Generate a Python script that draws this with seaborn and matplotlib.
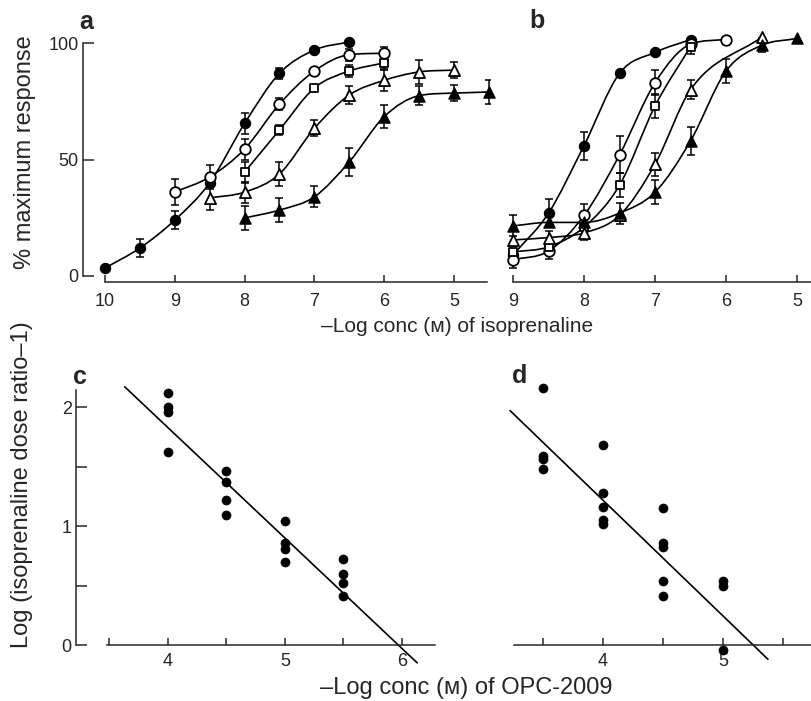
import numpy as np
import pandas as pd
import matplotlib
matplotlib.use("Agg")
import matplotlib.pyplot as plt
import seaborn as sns
from matplotlib.path import Path
from matplotlib.patches import PathPatch

# ---------------- data ----------------
# Panel a  (x = -log conc of isoprenaline, y = % maximum response)
a_fc_x = [10, 9.5, 9, 8.5, 8, 7.5, 7, 6.5]
a_fc_y = [3.4, 12, 24, 40, 65.5, 87, 97, 100.5]
a_fc_e = [0, 4, 4, 0, 4.5, 2.5, 0, 0]

a_oc_x = [9, 8.5, 8, 7.5, 7, 6.5, 6]
a_oc_y = [36, 42.5, 54.5, 73.8, 88, 95, 95.6]
a_oc_e = [5.5, 5, 4.5, 2.5, 1.5, 2.5, 2.5]

a_os_x = [8, 7.5, 7, 6.5, 6]
a_os_y = [44.6, 62.7, 80.7, 88, 91.5]
a_os_e = [4.5, 2, 1.5, 2.5, 2.5]

a_ot_x = [8.5, 8, 7.5, 7, 6.5, 6, 5.5, 5]
a_ot_y = [33.5, 36, 43.8, 63.4, 77.7, 84, 87.6, 88.4]
a_ot_e = [5, 4.5, 5, 3.5, 4, 4.5, 5, 3.5]

a_ft_x = [8, 7.5, 7, 6.5, 6, 5.5, 5, 4.5]
a_ft_y = [24.9, 28.3, 34, 49, 68.4, 77.4, 78.5, 79]
a_ft_e = [5, 5, 4.5, 6, 5, 4, 3.5, 5]

# Panel b
b_fc_x = [9, 8.5, 8, 7.5, 7, 6.5]
b_fc_y = [9, 27, 56, 87, 96, 101.5]
b_fc_e = [0, 6, 6, 0, 0, 0]

b_oc_x = [9, 8.5, 8, 7.5, 7, 6.5, 6]
b_oc_y = [7, 10.7, 26, 52, 83, 99.5, 101.5]
b_oc_e = [3.5, 3.5, 5, 8, 5.5, 0, 0]

b_os_x = [9, 8.5, 8, 7.5, 7, 6.5]
b_os_y = [10.3, 12.5, 21, 39, 73, 98.5]
b_os_e = [0, 0, 0, 5, 5, 3]

b_ot_x = [9, 8.5, 8, 7.5, 7, 6.5, 5.5]
b_ot_y = [15.5, 16.5, 18.5, 26, 48, 80, 102.5]
b_ot_e = [0, 3, 3, 0, 5, 4, 0]

b_ft_x = [9, 8.5, 8, 7.5, 7, 6.5, 6, 5.5, 5]
b_ft_y = [21.5, 23, 23, 27, 36, 58, 88, 99, 102]
b_ft_e = [4.5, 0, 0, 4.5, 5, 6, 5, 3, 0]

# Panel c  (x = -log conc of OPC-2009, y = log(dose ratio - 1))
c_x = [4, 4, 4, 4, 4.5, 4.5, 4.5, 4.5, 5, 5, 5, 5, 5.5, 5.5, 5.5, 5.5]
c_y = [2.12, 2.0, 1.96, 1.62, 1.46, 1.37, 1.22, 1.09,
       1.045, 0.855, 0.81, 0.70, 0.72, 0.60, 0.52, 0.41]
c_line_x = [3.63, 6.13]
c_line_y = [2.17, -0.15]

# Panel d
d_x = [3.5, 3.5, 3.5, 3.5, 4, 4, 4, 4, 4, 4.5, 4.5, 4.5, 4.5, 4.5, 5, 5, 5]
d_y = [2.16, 1.59, 1.56, 1.48, 1.68, 1.28, 1.16, 1.05, 1.02,
       1.15, 0.86, 0.82, 0.54, 0.41, 0.54, 0.50, -0.04]
d_line_x = [3.225, 5.375]
d_line_y = [1.97, -0.12]

# ---------------- style ----------------
sns.set_style("ticks")
plt.rcParams["font.family"] = ["Liberation Sans", "DejaVu Sans"]
plt.rcParams["axes.linewidth"] = 1.1

W, H = 812, 701
fig = plt.figure(figsize=(W / 100, H / 100), dpi=100)


def px_axes(left, top, right, bottom):
    return fig.add_axes([left / W, 1 - bottom / H, (right - left) / W, (bottom - top) / H])


def smooth_curve(ax, xs, ys, lw=1.2):
    x = np.asarray(xs, float)
    y = np.asarray(ys, float)
    o = np.argsort(x)
    x, y = x[o], y[o]
    h = np.diff(x)
    d = np.diff(y) / h
    n = len(x)
    m = np.zeros(n)
    m[0], m[-1] = d[0], d[-1]
    for i in range(1, n - 1):
        m[i] = 0 if d[i - 1] * d[i] <= 0 else (d[i - 1] + d[i]) / 2
    for k in range(n - 1):
        if d[k] == 0:
            m[k] = m[k + 1] = 0
            continue
        a, b = m[k] / d[k], m[k + 1] / d[k]
        s = a * a + b * b
        if s > 9:
            t = 3 / np.sqrt(s)
            m[k], m[k + 1] = t * a * d[k], t * b * d[k]
    verts = [(x[0], y[0])]
    codes = [Path.MOVETO]
    for k in range(n - 1):
        verts += [(x[k] + h[k] / 3, y[k] + m[k] * h[k] / 3),
                  (x[k + 1] - h[k] / 3, y[k + 1] - m[k + 1] * h[k] / 3),
                  (x[k + 1], y[k + 1])]
        codes += [Path.CURVE4] * 3
    ax.add_patch(PathPatch(Path(verts, codes), facecolor="none", edgecolor="black",
                           lw=lw, zorder=2, transform=ax.transData))


MK = {
    "fc": dict(marker="o", s=52, color="black", edgecolor="black", linewidth=1.0),
    "oc": dict(marker="o", s=58, color="white", edgecolor="black", linewidth=1.3),
    "os": dict(marker="s", s=38, color="white", edgecolor="black", linewidth=1.3),
    "ot": dict(marker="^", s=64, color="white", edgecolor="black", linewidth=1.3),
    "ft": dict(marker="^", s=64, color="black", edgecolor="black", linewidth=1.0),
}


def series(ax, xs, ys, es, kind):
    smooth_curve(ax, xs, ys)
    xe = [x for x, e in zip(xs, es) if e > 0]
    ye = [y for y, e in zip(ys, es) if e > 0]
    ee = [e for e in es if e > 0]
    if xe:
        ax.errorbar(xe, ye, yerr=ee, fmt="none", ecolor="black", elinewidth=1.1,
                    capsize=3.2, capthick=1.1, zorder=3)
    sns.scatterplot(x=xs, y=ys, ax=ax, zorder=4, clip_on=False, legend=False, **MK[kind])


TICK = 13

# ---- Panel a ----
ax_a = px_axes(83, 30, 490, 282)
for xs, ys, es, k in [(a_fc_x, a_fc_y, a_fc_e, "fc"), (a_oc_x, a_oc_y, a_oc_e, "oc"),
                      (a_os_x, a_os_y, a_os_e, "os"), (a_ot_x, a_ot_y, a_ot_e, "ot"),
                      (a_ft_x, a_ft_y, a_ft_e, "ft")]:
    series(ax_a, xs, ys, es, k)
ax_a.set_xlim(10.315, 4.484)
ax_a.set_ylim(-2.58, 105.6)
ax_a.set_xticks([10, 9, 8, 7, 6, 5])
ax_a.set_xticklabels(["10", "9", "8", "7", "6", "5"])
ax_a.set_yticks([0, 50, 100])
ax_a.set_yticklabels(["0", "50", "100"])
ax_a.spines["left"].set_bounds(0, 100)
ax_a.spines["bottom"].set_bounds(10, 4.53)
ax_a.tick_params(axis="y", direction="in", length=8, width=1.1, labelsize=TICK, pad=3)
ax_a.tick_params(axis="x", direction="in", length=5, width=1.1, labelsize=TICK, pad=8)
sns.despine(ax=ax_a)

# ---- Panel b ----
ax_b = px_axes(505, 30, 812, 282)
for xs, ys, es, k in [(b_fc_x, b_fc_y, b_fc_e, "fc"), (b_oc_x, b_oc_y, b_oc_e, "oc"),
                      (b_os_x, b_os_y, b_os_e, "os"), (b_ot_x, b_ot_y, b_ot_e, "ot"),
                      (b_ft_x, b_ft_y, b_ft_e, "ft")]:
    series(ax_b, xs, ys, es, k)
ax_b.set_xlim(9.113, 4.79)
ax_b.set_ylim(-2.58, 105.6)
ax_b.set_xticks([9, 8, 7, 6, 5])
ax_b.set_xticklabels(["9", "8", "7", "6", "5"])
ax_b.set_yticks([])
ax_b.spines["bottom"].set_bounds(9, 4.79)
ax_b.tick_params(axis="x", direction="in", length=5, width=1.1, labelsize=TICK, pad=8)
sns.despine(ax=ax_b, left=True)

# ---- Panel c ----
ax_c = px_axes(76, 380, 435, 665)
sns.lineplot(x=c_line_x, y=c_line_y, ax=ax_c, color="black", lw=1.2, zorder=2)
sns.scatterplot(x=c_x, y=c_y, ax=ax_c, marker="o", s=42, color="black",
                edgecolor="black", zorder=4, legend=False, clip_on=False)
ax_c.set_xlim(3.214, 6.282)
ax_c.set_ylim(-0.168, 2.227)
ax_c.set_xticks([3.5, 4, 4.5, 5, 5.5, 6])
ax_c.set_xticklabels(["", "4", "", "5", "", "6"])
ax_c.set_yticks([0, 0.5, 1, 1.5, 2])
ax_c.set_yticklabels(["0", "", "1", "", "2"])
ax_c.spines["bottom"].set_position(("data", 0))
ax_c.spines["bottom"].set_bounds(3.48, 6.282)
ax_c.spines["left"].set_bounds(0, 2.14)
ax_c.tick_params(axis="y", direction="in", length=8, width=1.1, labelsize=TICK, pad=3)
ax_c.tick_params(axis="x", direction="in", length=5, width=1.1, labelsize=TICK, pad=6)
sns.despine(ax=ax_c)

# ---- Panel d ----
ax_d = px_axes(505, 380, 812, 665)
sns.lineplot(x=d_line_x, y=d_line_y, ax=ax_d, color="black", lw=1.2, zorder=2)
sns.scatterplot(x=d_x, y=d_y, ax=ax_d, marker="o", s=42, color="black",
                edgecolor="black", zorder=4, legend=False, clip_on=False)
ax_d.set_xlim(3.183, 5.742)
ax_d.set_ylim(-0.168, 2.227)
ax_d.set_xticks([3.5, 4, 4.5, 5, 5.5])
ax_d.set_xticklabels(["", "4", "", "5", ""])
ax_d.set_yticks([])
ax_d.spines["bottom"].set_position(("data", 0))
ax_d.spines["bottom"].set_bounds(3.26, 5.742)
ax_d.tick_params(axis="x", direction="in", length=5, width=1.1, labelsize=TICK, pad=6)
sns.despine(ax=ax_d, left=True)

for ax in (ax_a, ax_b, ax_c, ax_d):
    ax.set_xlabel("")
    ax.set_ylabel("")
    ax.patch.set_alpha(0)

# ---- texts ----
fam = ["Liberation Sans", "DejaVu Sans"]
fig.text(25 / W, 1 - 152 / H, "% maximum response", rotation=90, ha="center", va="center",
         fontsize=17, family=fam)
fig.text(457 / W, 1 - 332 / H, "\u2013Log conc (\u1d0d) of isoprenaline", ha="center",
         va="baseline", fontsize=15, family=fam)
fig.text(22 / W, 1 - 485 / H, "Log (isoprenaline dose ratio\u20131)", rotation=90,
         ha="center", va="center", fontsize=17, family=fam)
fig.text(466 / W, 1 - 694 / H, "\u2013Log conc (\u1d0d) of OPC-2009", ha="center",
         va="baseline", fontsize=17, family=fam)

for lbl, x, y in [("a", 86, 22), ("b", 537, 21), ("c", 80, 377), ("d", 520, 376)]:
    fig.text(x / W, 1 - y / H, lbl, ha="center", va="center", fontsize=18,
             fontweight="bold", family=fam)

fig.savefig("out.png", dpi=100)
